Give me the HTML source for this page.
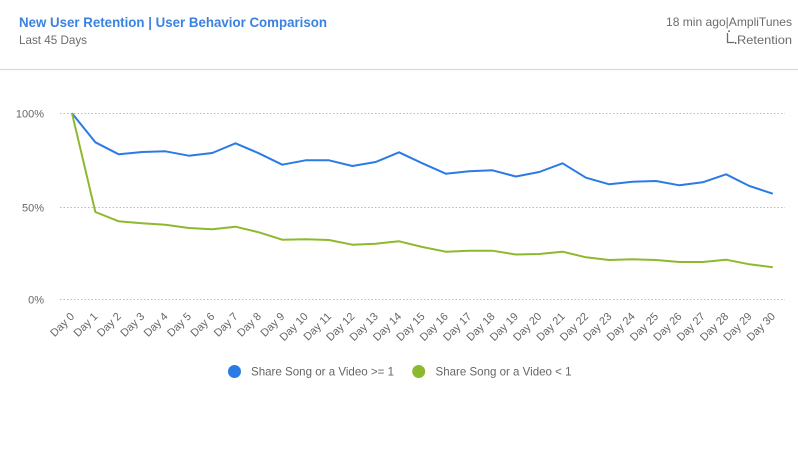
<!DOCTYPE html>
<html>
<head>
<meta charset="utf-8">
<style>
html,body{margin:0;padding:0;background:#fff;}
body{width:798px;height:472px;overflow:hidden;}
svg{display:block;font-family:"Liberation Sans",sans-serif;}
</style>
</head>
<body>
<svg width="798" height="472" viewBox="0 0 798 472" xmlns="http://www.w3.org/2000/svg">
  <rect width="798" height="472" fill="#fff"/>
  <!-- header -->
  <text x="19" y="27" font-size="14" font-weight="bold" fill="#3b82e0" textLength="308" lengthAdjust="spacingAndGlyphs">New User Retention | User Behavior Comparison</text>
  <text x="19" y="44" font-size="12" fill="#6b6b6b" textLength="68" lengthAdjust="spacingAndGlyphs">Last 45 Days</text>
  <text x="792" y="26" font-size="12" fill="#6b6b6b" text-anchor="end" textLength="126" lengthAdjust="spacingAndGlyphs">18 min ago|AmpliTunes</text>
  <path d="M727.5 33 V42.5 H734.5" fill="none" stroke="#6b6b6b" stroke-width="1.3"/>
  <rect x="728" y="30.5" width="2" height="1.3" fill="#6b6b6b"/>
  <rect x="735" y="42" width="1.3" height="2" fill="#6b6b6b"/>
  <text x="792" y="44" font-size="12" fill="#6b6b6b" text-anchor="end" textLength="55" lengthAdjust="spacingAndGlyphs">Retention</text>
  <line x1="0" y1="69.5" x2="798" y2="69.5" stroke="#dcdcdc" stroke-width="1.2"/>

  <!-- grid -->
  <g stroke="#b8bcc2" stroke-width="1" stroke-dasharray="1.5,2">
    <line x1="60" y1="113.5" x2="785" y2="113.5"/>
    <line x1="60" y1="207.5" x2="785" y2="207.5"/>
    <line x1="60" y1="299.5" x2="785" y2="299.5"/>
  </g>
  <g font-size="11" fill="#666" text-anchor="end">
    <text x="44" y="117.5">100%</text>
    <text x="44" y="211.5">50%</text>
    <text x="44" y="303.5">0%</text>
  </g>

  <!-- series -->
  <polyline fill="none" stroke="#2b7be4" stroke-width="2" stroke-linejoin="round" points="72,113.3 95.36,142.3 118.72,154.3 142.08,152 165.44,151.3 188.8,155.7 212.16,153 235.52,143.3 258.88,153.3 282.24,164.7 305.6,160.3 328.96,160.3 352.32,166 375.68,162 399.04,152.3 422.4,163.3 445.76,173.7 469.12,171.3 492.48,170.3 515.84,176.5 539.2,172 562.56,163.3 585.92,177.7 609.28,184.3 632.64,181.7 656,181 679.36,185.3 702.72,182.3 726.08,174.3 749.44,186 772.8,193.7"/>
  <polyline fill="none" stroke="#8db92e" stroke-width="2" stroke-linejoin="round" points="72,113.3 95.36,212 118.72,221.3 142.08,223.3 165.44,224.7 188.8,228 212.16,229.3 235.52,226.7 258.88,232.3 282.24,239.7 305.6,239.3 328.96,240 352.32,244.7 375.68,243.7 399.04,241.3 422.4,247 445.76,251.7 469.12,250.7 492.48,250.7 515.84,254.5 539.2,254 562.56,251.7 585.92,257.3 609.28,260 632.64,259.3 656,260 679.36,262 702.72,262 726.08,259.7 749.44,264.3 772.8,267.3"/>

  <!-- x labels -->
  <g font-size="11" fill="#666" text-anchor="end">
    <text transform="translate(75,317) rotate(-45)">Day 0</text>
    <text transform="translate(98.36,317) rotate(-45)">Day 1</text>
    <text transform="translate(121.72,317) rotate(-45)">Day 2</text>
    <text transform="translate(145.08,317) rotate(-45)">Day 3</text>
    <text transform="translate(168.44,317) rotate(-45)">Day 4</text>
    <text transform="translate(191.8,317) rotate(-45)">Day 5</text>
    <text transform="translate(215.16,317) rotate(-45)">Day 6</text>
    <text transform="translate(238.52,317) rotate(-45)">Day 7</text>
    <text transform="translate(261.88,317) rotate(-45)">Day 8</text>
    <text transform="translate(285.24,317) rotate(-45)">Day 9</text>
    <text transform="translate(308.6,317) rotate(-45)">Day 10</text>
    <text transform="translate(331.96,317) rotate(-45)">Day 11</text>
    <text transform="translate(355.32,317) rotate(-45)">Day 12</text>
    <text transform="translate(378.68,317) rotate(-45)">Day 13</text>
    <text transform="translate(402.04,317) rotate(-45)">Day 14</text>
    <text transform="translate(425.4,317) rotate(-45)">Day 15</text>
    <text transform="translate(448.76,317) rotate(-45)">Day 16</text>
    <text transform="translate(472.12,317) rotate(-45)">Day 17</text>
    <text transform="translate(495.48,317) rotate(-45)">Day 18</text>
    <text transform="translate(518.84,317) rotate(-45)">Day 19</text>
    <text transform="translate(542.2,317) rotate(-45)">Day 20</text>
    <text transform="translate(565.56,317) rotate(-45)">Day 21</text>
    <text transform="translate(588.92,317) rotate(-45)">Day 22</text>
    <text transform="translate(612.28,317) rotate(-45)">Day 23</text>
    <text transform="translate(635.64,317) rotate(-45)">Day 24</text>
    <text transform="translate(659,317) rotate(-45)">Day 25</text>
    <text transform="translate(682.36,317) rotate(-45)">Day 26</text>
    <text transform="translate(705.72,317) rotate(-45)">Day 27</text>
    <text transform="translate(729.08,317) rotate(-45)">Day 28</text>
    <text transform="translate(752.44,317) rotate(-45)">Day 29</text>
    <text transform="translate(775.8,317) rotate(-45)">Day 30</text>
  </g>

  <!-- legend -->
  <circle cx="234.5" cy="371.5" r="6.5" fill="#2b7be4"/>
  <text x="251" y="375.5" font-size="12" fill="#666" textLength="143" lengthAdjust="spacingAndGlyphs">Share Song or a Video &gt;= 1</text>
  <circle cx="418.7" cy="371.5" r="6.5" fill="#8db92e"/>
  <text x="435.5" y="375.5" font-size="12" fill="#666" textLength="136" lengthAdjust="spacingAndGlyphs">Share Song or a Video &lt; 1</text>
</svg>
</body>
</html>
